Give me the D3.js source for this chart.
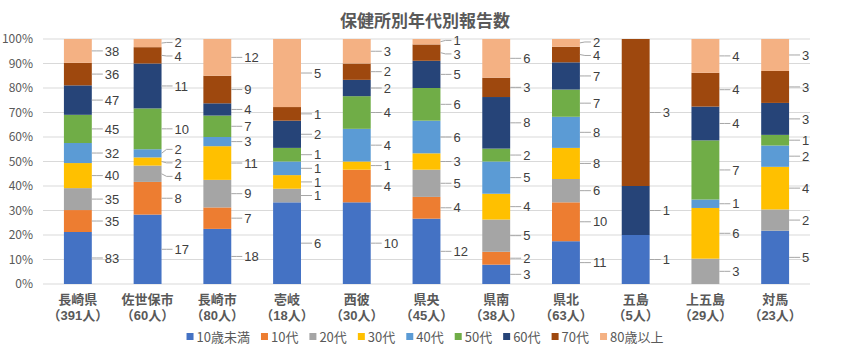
<!DOCTYPE html>
<html><head><meta charset="utf-8">
<script src="https://cdn.jsdelivr.net/npm/d3@7"></script>
<style>
body{margin:0;background:#fff;}
svg{display:block;font-family:"Noto Sans CJK JP","Noto Sans",sans-serif;}
</style></head>
<body><svg id="c" width="849" height="356"></svg>
<script>
const categories = ["長崎県","佐世保市","長崎市","壱岐","西彼","県央","県南","県北","五島","上五島","対馬"];
const totals = [391,60,80,18,30,45,38,63,5,29,23];
const seriesNames = ["10歳未満","10代","20代","30代","40代","50代","60代","70代","80歳以上"];
const s10未満 = [83,17,18,6,10,12,3,11,1,0,5];
const s10代 = [35,8,7,0,4,4,2,10,0,0,0];
const s20代 = [35,4,9,1,0,5,5,6,0,3,2];
const s30代 = [40,2,11,1,1,3,4,8,0,6,4];
const s40代 = [32,2,3,1,4,6,5,8,0,1,2];
const s50代 = [45,10,7,1,4,6,2,7,0,7,1];
const s60代 = [47,11,4,2,2,5,8,7,1,4,3];
const s70代 = [36,4,9,1,2,3,3,4,3,4,3];
const s80以上 = [38,2,12,5,3,1,6,2,0,4,3];
const seriesValues = [s10未満,s10代,s20代,s30代,s40代,s50代,s60代,s70代,s80以上];
const colors = ["#4472C4","#ED7D31","#A5A5A5","#FFC000","#5B9BD5","#70AD47","#264478","#9E480E","#F4B183"];
const yTicks = [0,0.1,0.2,0.3,0.4,0.5,0.6,0.7,0.8,0.9,1];

const svg = d3.select("#c");
const L=43, R=810, T=39, B=284;
const x = d3.scaleBand().domain(categories).range([L,R]).padding(0);
const y = d3.scaleLinear().domain([0,1]).range([B,T]);
const bw = x.bandwidth()*0.4;

// gridlines
svg.append("g").selectAll("line").data(yTicks).join("line")
  .attr("x1",L).attr("x2",R).attr("y1",d=>y(d)).attr("y2",d=>y(d))
  .attr("stroke","#d9d9d9").attr("stroke-width",1);

// y axis labels
const yAxis = d3.axisLeft(y).tickValues(yTicks).tickFormat(d3.format(".0%")).tickSize(0).tickPadding(0);
const yg = svg.append("g").attr("transform",`translate(${L-10},0)`).call(yAxis);
yg.select(".domain").remove();
yg.selectAll("text").attr("fill","#595959").attr("font-size","12px").attr("font-family","'Noto Sans CJK JP',sans-serif");

// title
svg.append("text").attr("x",425).attr("y",27).attr("text-anchor","middle")
  .attr("font-size","17px").attr("font-weight","bold").attr("fill","#595959").text("保健所別年代別報告数");

// stacked data
const rows = categories.map((c,i)=>{const o={cat:c,total:totals[i]}; seriesNames.forEach((s,j)=>o[s]=seriesValues[j][i]); return o;});
const stack = d3.stack().keys(seriesNames).offset(d3.stackOffsetExpand);
const stacked = stack(rows);

const gb = svg.append("g");
stacked.forEach((layer,j)=>{
  gb.append("g").attr("fill",colors[j]).selectAll("rect").data(layer).join("rect")
    .attr("x",d=>x(d.data.cat)+(x.bandwidth()-bw)/2)
    .attr("width",bw)
    .attr("y",d=>y(d[1]))
    .attr("height",d=>Math.max(0,y(d[0])-y(d[1])));
});

// labels with simple collision avoidance
const gl = svg.append("g");
categories.forEach((c,i)=>{
  const barR = x(c)+(x.bandwidth()+bw)/2;
  let labs=[];
  stacked.forEach((layer,j)=>{
    const v = seriesValues[j][i];
    if(v>0){const d=layer[i]; const mid=(y(d[0])+y(d[1]))/2; labs.push({v,mid,ly:mid});}
  });
  const gap=13.5;
  for(let it=0;it<60;it++){
    for(let k=1;k<labs.length;k++){
      const a=labs[k-1], b=labs[k];
      const diff=a.ly-b.ly;
      if(diff<gap){const sh=(gap-diff)/2; a.ly+=sh; b.ly-=sh;}
    }
  }
  labs.forEach(l=>{
    gl.append("polyline")
      .attr("points",`${barR},${l.mid} ${barR+5},${l.ly} ${barR+11},${l.ly}`)
      .attr("fill","none").attr("stroke","#a6a6a6").attr("stroke-width",1);
    gl.append("text").attr("x",barR+13).attr("y",l.ly).attr("dy","0.36em")
      .attr("font-family","'Liberation Sans',Arial,sans-serif")
      .attr("font-size","13px").attr("fill","#404040").text(l.v);
  });
});

// x labels
const gx = svg.append("g").attr("font-family","'Liberation Sans','Noto Sans CJK JP',sans-serif");
categories.forEach((c,i)=>{
  const cx = x(c)+x.bandwidth()/2;
  gx.append("text").attr("x",cx).attr("y",304).attr("text-anchor","middle")
    .attr("font-size","13px").attr("font-weight","bold").attr("fill","#595959").text(c);
  gx.append("text").attr("x",cx).attr("y",319.5).attr("text-anchor","middle")
    .attr("font-size","13px").attr("font-weight","bold").attr("fill","#595959").text(`（${totals[i]}人）`);
});

// legend
const lg = svg.append("g");
let lx=0;
seriesNames.forEach((s,j)=>{
  const g=lg.append("g").attr("transform",`translate(${lx},0)`);
  g.append("rect").attr("x",0).attr("y",-4).attr("width",7).attr("height",7).attr("fill",colors[j]);
  const t=g.append("text").attr("x",10).attr("y",0).attr("dy","0.35em").attr("font-size","13px").attr("fill","#595959").text(s);
  const w=t.node().getComputedTextLength();
  lx += 10+w+11;
});
const totalW = lx-11;
lg.attr("transform",`translate(${425-totalW/2},337)`);
</script></body></html>
